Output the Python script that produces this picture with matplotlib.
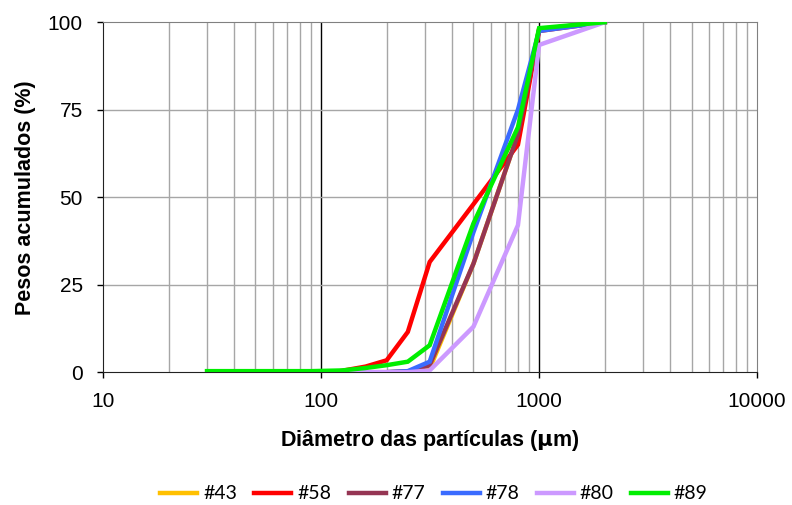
import matplotlib
matplotlib.use('Agg')
import matplotlib.pyplot as plt
from matplotlib.ticker import FixedLocator, NullFormatter
import numpy as np

nan = np.nan
diam = [30, 45, 63, 90, 125, 160, 200, 250, 315, 500, 800, 1000, 2000]
s43 = [nan, nan, nan, nan, 0, 0, 0, 0.2, 1.0, 31, 68, 98, 100]
s58 = [nan, nan, nan, nan, 0.4, 1.6, 3.4, 11.5, 31.5, 48, 65, 97.5, 100]
s77 = [nan, nan, nan, nan, 0, 0, 0, 0.2, 2.0, 31, 68, 98, 100]
s78 = [nan, nan, nan, nan, 0, 0, 0, 0.3, 3.0, 40, 75, 97.5, 100]
s80 = [nan, nan, nan, nan, 0, 0, 0, 0, 0.5, 13, 42, 93.5, 100]
s89 = [0.3, 0.3, 0.3, 0.3, 0.5, 1.2, 2.0, 3.0, 7.7, 42.5, 70, 98.3, 100]

series = [('#43', s43, '#FFC000'), ('#58', s58, '#FF0000'), ('#77', s77, '#953553'),
          ('#78', s78, '#3A6BFF'), ('#80', s80, '#CC99FF'), ('#89', s89, '#00EE00')]

fig = plt.figure(figsize=(7.92, 5.05), dpi=100)
ax = fig.add_axes([0.130, 0.263, 0.826, 0.693])

ax.set_xscale('log')
ax.set_xlim(10, 10000)
ax.set_ylim(0, 100)

# grid drawn by hand: grey minors, black at the decades
minors = [m * 10**e for e in range(1, 4) for m in range(2, 10)]
for v in minors:
    ax.axvline(v, color='#A6A6A6', lw=1.0, zorder=1)
for v in [100, 1000]:
    ax.axvline(v, color='black', lw=1.0, zorder=1)
for v in [25, 50, 75]:
    ax.axhline(v, color='#A6A6A6', lw=1.0, zorder=1)

for name, vals, col in series:
    ax.plot(diam, vals, color=col, lw=3.2, label=name, zorder=3, solid_joinstyle='miter')

ax.xaxis.set_major_locator(FixedLocator([10, 100, 1000, 10000]))
ax.xaxis.set_minor_locator(FixedLocator([]))
ax.xaxis.set_minor_formatter(NullFormatter())
ax.set_xticklabels(['10', '100', '1000', '10000'])
ax.set_yticks([0, 25, 50, 75, 100])
ax.tick_params(axis='both', labelsize=15, length=4.5, width=1, direction='out')
ax.tick_params(axis='x', pad=10)
ax.tick_params(axis='y', pad=10)
for lab in ax.get_xticklabels() + ax.get_yticklabels():
    lab.set_family('Liberation Sans')

ax.spines['left'].set_color('#222222')
ax.spines['bottom'].set_color('#222222')
ax.spines['top'].set_color('#808080')
ax.spines['right'].set_color('#808080')

ax.set_xlabel('Diâmetro das partículas ($\\mathbf{\\mu}$m)', fontsize=15.5, fontweight='bold',
              family='Liberation Sans', labelpad=12)
ax.set_ylabel('Pesos acumulados (%)', fontsize=15.5, fontweight='bold',
              family='Liberation Sans')
ax.yaxis.set_label_coords(-0.103, 0.5)

fig.legend(loc='center', bbox_to_anchor=(0.548, 0.022), ncol=6, frameon=False,
           prop={'family': 'Lato', 'size': 14}, handlelength=1.9, columnspacing=0.9,
           handletextpad=0.3)

plt.savefig('out.png', dpi=100)
